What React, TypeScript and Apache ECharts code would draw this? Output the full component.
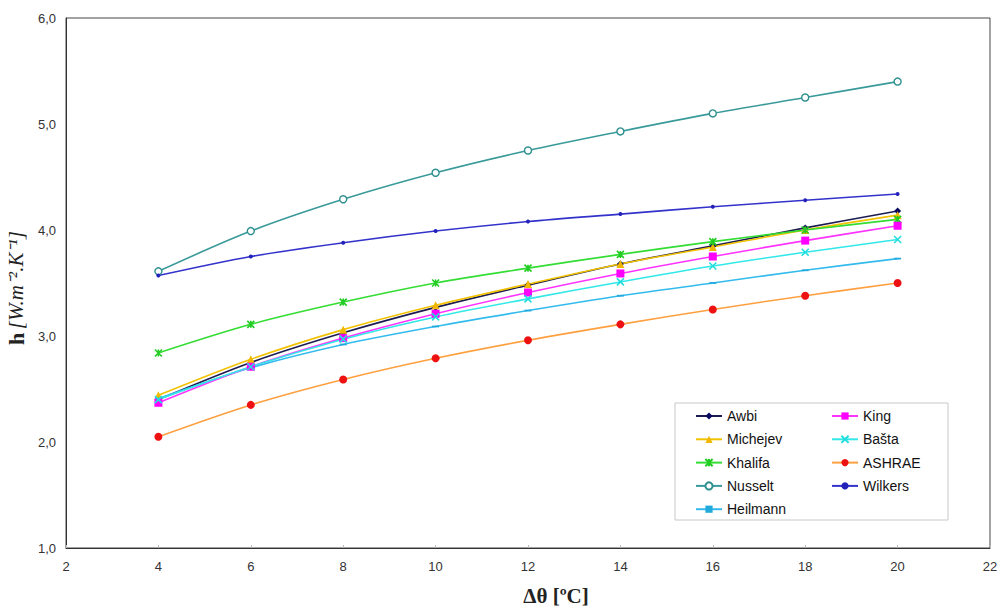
import React, { useEffect, useRef } from "react";
import * as echarts from "echarts";

const xValues = [4, 6, 8, 10, 12, 14, 16, 18, 20];
const awbi = [2.4, 2.75, 3.03, 3.27, 3.48, 3.68, 3.85, 4.02, 4.18];
const michejev = [2.44, 2.78, 3.06, 3.29, 3.49, 3.68, 3.84, 4.0, 4.14];
const khalifa = [2.84, 3.11, 3.32, 3.5, 3.64, 3.77, 3.89, 4.0, 4.1];
const nusselt = [3.61, 3.99, 4.29, 4.54, 4.75, 4.93, 5.1, 5.25, 5.4];
const heilmann = [2.41, 2.7, 2.92, 3.09, 3.24, 3.38, 3.5, 3.62, 3.73];
const king = [2.37, 2.71, 2.98, 3.21, 3.41, 3.59, 3.75, 3.9, 4.04];
const basta = [2.4, 2.71, 2.97, 3.18, 3.35, 3.51, 3.66, 3.79, 3.91];
const ashrae = [2.05, 2.35, 2.59, 2.79, 2.96, 3.11, 3.25, 3.38, 3.5];
const wilkers = [3.57, 3.75, 3.88, 3.99, 4.08, 4.15, 4.22, 4.28, 4.34];

const legendCol1 = ["Awbi", "Michejev", "Khalifa", "Nusselt", "Heilmann"];
const legendCol2 = ["King", "Bašta", "ASHRAE", "Wilkers"];

const xTicks = { min: 2, max: 22, interval: 2 };
const yTicks = { min: 1, max: 6, interval: 1 };

const SANS = "'Liberation Sans', Arial, sans-serif";
const SERIF = "'Liberation Serif', 'Times New Roman', serif";

const XMARK = "path://M0,0L10,10M10,0L0,10";
const STAR = "path://M0,0L10,10M10,0L0,10M5,0L5,10";
const DASH = "path://M0,0L10,0L10,2.5L0,2.5Z";

type Spec = {
  name: string;
  data: number[];
  line: string;
  marker: string;
  symbol: string;
  size: number;
  stroke?: boolean;
  fill?: string;
};

const specs: Spec[] = [
  { name: "Awbi", data: awbi, line: "#1c1c50", marker: "#0a0a60", symbol: "diamond", size: 7 },
  { name: "Michejev", data: michejev, line: "#f2c200", marker: "#f0b800", symbol: "triangle", size: 8 },
  { name: "Khalifa", data: khalifa, line: "#33dd33", marker: "#22cc22", symbol: STAR, size: 7, stroke: true },
  { name: "Nusselt", data: nusselt, line: "#3a9a9a", marker: "#2f8f8f", symbol: "circle", size: 7, fill: "#ffffff" },
  { name: "Heilmann", data: heilmann, line: "#33bbee", marker: "#22aadd", symbol: DASH, size: 7 },
  { name: "King", data: king, line: "#ff33ff", marker: "#ff00ff", symbol: "rect", size: 8 },
  { name: "Bašta", data: basta, line: "#33e8e8", marker: "#22dddd", symbol: XMARK, size: 7, stroke: true },
  { name: "ASHRAE", data: ashrae, line: "#ffa040", marker: "#ee1111", symbol: "circle", size: 8 },
  { name: "Wilkers", data: wilkers, line: "#3333cc", marker: "#2222bb", symbol: "circle", size: 4 },
];

const legendBase = {
  orient: "vertical",
  top: 408,
  padding: 0,
  itemGap: 7.3,
  itemWidth: 26,
  itemHeight: 9,
  textStyle: { fontFamily: SANS, fontSize: 14, color: "#111", lineHeight: 16 },
};

export default function App() {
  const ref = useRef<HTMLDivElement>(null);
  useEffect(() => {
    if (!ref.current) return;
    const chart = echarts.init(ref.current, null, { renderer: "svg" });
    const series = specs.map((s) => ({
      name: s.name,
      type: "line",
      data: xValues.map((x, i) => [x, s.data[i]]),
      smooth: 0.3,
      symbol: s.symbol,
      symbolSize: s.size,
      symbolKeepAspect: true,
      showSymbol: true,
      lineStyle: { color: s.line, width: 1.6 },
      itemStyle: s.stroke
        ? { color: s.marker, borderColor: s.marker, borderWidth: 1.6 }
        : s.fill
        ? { color: s.fill, borderColor: s.marker, borderWidth: 1.4 }
        : { color: s.marker, borderWidth: 0 },
      emphasis: { disabled: true },
    }));
    chart.setOption({
      animation: false,
      backgroundColor: "#ffffff",
      grid: {
        left: 66,
        right: 13,
        top: 18,
        bottom: 62,
        outerBoundsMode: "none",
        containLabel: false,
        show: true,
        borderColor: "#444",
        borderWidth: 1,
      },
      graphic: [
        {
          type: "rect",
          shape: { x: 675, y: 403, width: 273, height: 117 },
          style: { fill: "#ffffff", stroke: "#c8c8c8", lineWidth: 1 },
          z: 3,
          silent: true,
        },
      ],
      legend: [
        { ...legendBase, left: 695, data: legendCol1 },
        { ...legendBase, left: 831, data: legendCol2 },
      ],
      xAxis: {
        type: "value",
        min: xTicks.min,
        max: xTicks.max,
        interval: xTicks.interval,
        name: "Δθ [ºC]",
        nameLocation: "middle",
        nameGap: 37,
        nameTextStyle: {
          fontFamily: SERIF,
          fontSize: 21,
          fontWeight: "bold",
          color: "#222",
          padding: [0, 0, 0, 56],
        },
        axisLine: { lineStyle: { color: "#333" } },
        axisTick: { show: true, length: 3, inside: true, lineStyle: { color: "#bbb" } },
        axisLabel: { fontFamily: SANS, fontSize: 13, color: "#333", margin: 12 },
        splitLine: { show: false },
      },
      yAxis: {
        type: "value",
        min: yTicks.min,
        max: yTicks.max,
        interval: yTicks.interval,
        name: "{b|h} {i|[W.m⁻².K⁻¹]}",
        nameLocation: "middle",
        nameGap: 38,
        nameTextStyle: {
          padding: [0, 10, 0, 0],
          rich: {
            b: { fontFamily: SERIF, fontSize: 22, fontWeight: "bold", color: "#222" },
            i: { fontFamily: SERIF, fontSize: 21, fontStyle: "italic", color: "#222" },
          },
        },
        axisLine: { show: true, lineStyle: { color: "#333" } },
        axisTick: { show: false },
        axisLabel: {
          fontFamily: SANS,
          fontSize: 13,
          color: "#333",
          margin: 10,
          formatter: (v: number) => v.toFixed(1).replace(".", ","),
        },
        splitLine: { show: false },
      },
      series,
    });
    return () => chart.dispose();
  }, []);
  return (
    <div
      ref={ref}
      style={{ position: "fixed", left: 0, top: 0, width: 1003, height: 610 }}
    />
  );
}
